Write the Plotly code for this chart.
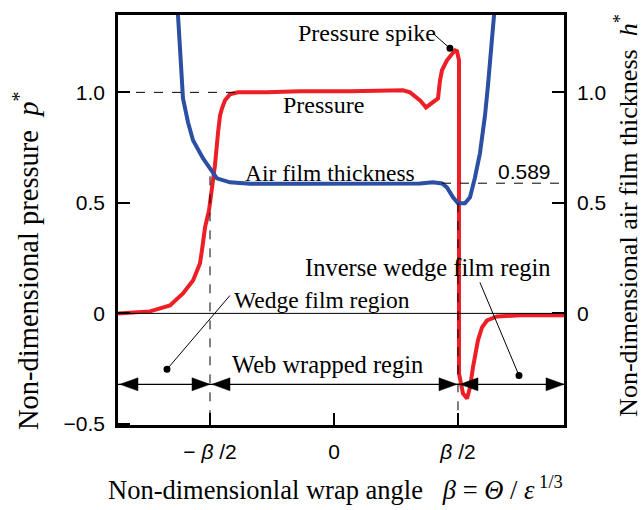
import plotly.graph_objects as go

# ---- data (x in units of beta/2, so -1 = -beta/2, +1 = beta/2) ----
p_x = [-1.742, -1.621, -1.484, -1.323, -1.218, -1.137, -1.081, -1.065, -1.040, -1.008,
       -0.984, -0.960, -0.935, -0.919, -0.903, -0.879, -0.839, -0.774, -0.540, -0.274,
       0.129, 0.556, 0.613, 0.694, 0.742, 0.798, 0.839, 0.855, 0.871, 0.911,
       0.976, 0.992, 1.008, 1.008, 1.040, 1.073, 1.097, 1.121, 1.161, 1.194,
       1.234, 1.315, 1.500, 1.855]
p_y = [0.0, 0.005, 0.009, 0.036, 0.090, 0.149, 0.226, 0.285, 0.389, 0.466,
       0.557, 0.670, 0.819, 0.896, 0.928, 0.964, 0.991, 1.000, 1.000, 1.005,
       1.005, 1.009, 1.000, 0.964, 0.932, 0.955, 0.973, 1.054, 1.100, 1.145,
       1.190, 1.186, 1.145, -0.271, -0.362, -0.385, -0.335, -0.244, -0.122, -0.063,
       -0.032, -0.014, -0.009, -0.009]

h_x = [-1.266, -1.258, -1.242, -1.218, -1.177, -1.137, -1.056, -0.984, -0.944, -0.839,
       -0.677, -0.274, 0.371, 0.694, 0.798, 0.871, 0.911, 0.960, 1.000, 1.056,
       1.097, 1.137, 1.177, 1.218, 1.242, 1.274, 1.298, 1.315]
h_y = [1.507, 1.348, 1.199, 0.973, 0.864, 0.783, 0.701, 0.638, 0.611, 0.593,
       0.586, 0.586, 0.586, 0.588, 0.593, 0.588, 0.570, 0.525, 0.498, 0.498,
       0.525, 0.615, 0.724, 0.896, 1.032, 1.213, 1.348, 1.507]

x_range = [-1.742, 1.855]
y_range = [-0.505, 1.35]
y_tickvals = [1.0, 0.5, 0.0, -0.5]
y_ticktext = ["1.0", "0.5", "0", "\u22120.5"]
y2_tickvals = [1.0, 0.5, 0.0]
y2_ticktext = ["1.0", "0.5", "0"]
x_tickvals = [-1, 0, 1]
x_ticktext = ["\u2212 <i>\u03b2</i> /2", "0", "<i>\u03b2</i> /2"]

h_uniform = 0.589
p_spike = (0.935, 1.199)
region_bounds = [-1.742, -1.0, 1.0, 1.855]
arrow_row = -0.321

RED = "#EE1E26"
BLUE = "#2A4FA3"
SERIF = "Liberation Serif"
SANS = "Liberation Sans"

fig = go.Figure()
fig.add_trace(go.Scatter(x=p_x, y=p_y, mode="lines", yaxis="y",
                         line=dict(color=RED, width=4), hoverinfo="skip"))
fig.add_trace(go.Scatter(x=h_x, y=h_y, mode="lines", yaxis="y2",
                         line=dict(color=BLUE, width=4), hoverinfo="skip"))

shapes = []
# zero line
shapes.append(dict(type="line", xref="paper", yref="y", x0=0, x1=1, y0=0, y1=0,
                   line=dict(color="black", width=1)))
# dashed reference lines
shapes.append(dict(type="line", xref="x", yref="y", x0=x_range[0], x1=-0.774, y0=1.0, y1=1.0,
                   line=dict(color="black", width=1, dash="dash")))
shapes.append(dict(type="line", xref="x", yref="y", x0=0.871, x1=x_range[1], y0=h_uniform, y1=h_uniform,
                   line=dict(color="black", width=1, dash="dash")))
shapes.append(dict(type="line", xref="x", yref="y", x0=-1.0, x1=-1.0, y0=0.62, y1=y_range[0],
                   line=dict(color="black", width=1, dash="dash")))
shapes.append(dict(type="line", xref="x", yref="y", x0=1.0, x1=1.0, y0=0.498, y1=y_range[0],
                   line=dict(color="black", width=1, dash="dash")))
# region arrows
shapes.append(dict(type="line", xref="x", yref="y", x0=region_bounds[0], x1=region_bounds[-1],
                   y0=arrow_row, y1=arrow_row, line=dict(color="black", width=1.2)))
heads = [(region_bounds[0] + 0.016, -1), (region_bounds[1], 1), (region_bounds[1] + 0.016, -1),
         (region_bounds[2] - 0.008, 1), (region_bounds[2] + 0.016, -1), (region_bounds[3], 1)]
for hx, d in heads:
    shapes.append(dict(type="path", xref="x", yref="y", xsizemode="pixel", ysizemode="pixel",
                       xanchor=hx, yanchor=arrow_row,
                       path=f"M0,0 L{-18*d},6.5 L{-18*d},-6.5 Z",
                       fillcolor="black", line=dict(color="black", width=0.5)))
# leader lines and dots
leaders = [((0.798, 1.267), p_spike), ((-0.839, 0.081), (-1.347, -0.253)),
           ((1.177, 0.140), (1.492, -0.281))]
for (ax_, ay_), (dx, dy) in leaders:
    shapes.append(dict(type="line", xref="x", yref="y", x0=ax_, y0=ay_, x1=dx, y1=dy,
                       line=dict(color="black", width=1)))
    shapes.append(dict(type="circle", xref="x", yref="y", xsizemode="pixel", ysizemode="pixel",
                       xanchor=dx, yanchor=dy, x0=-3.5, x1=3.5, y0=-3.5, y1=3.5,
                       fillcolor="black", line=dict(color="black", width=0)))

def tf(size=23.5):
    return dict(family=SERIF, size=size, color="black")

annotations = [
    dict(x=0.839, y=1.267, xref="x", yref="y", text="Pressure spike", showarrow=False,
         xanchor="right", yanchor="middle", font=tf(24)),
    dict(x=-0.085, y=0.941, xref="x", yref="y", text="Pressure", showarrow=False,
         xanchor="center", yanchor="middle", font=tf(24)),
    dict(x=-0.032, y=0.633, xref="x", yref="y", text="Air film thickness", showarrow=False,
         xanchor="center", yanchor="middle", font=tf(23.5)),
    dict(x=1.766, y=0.643, xref="x", yref="y", text="0.589", showarrow=False,
         xanchor="right", yanchor="middle", font=dict(family=SANS, size=21, color="black")),
    dict(x=-0.823, y=0.059, xref="x", yref="y", text="Wedge film region", showarrow=False,
         xanchor="left", yanchor="middle", font=tf(23.5)),
    dict(x=-0.839, y=-0.231, xref="x", yref="y", text="Web wrapped regin", showarrow=False,
         xanchor="left", yanchor="middle", font=tf(24.5)),
    dict(x=1.766, y=0.208, xref="x", yref="y", text="Inverse wedge film regin", showarrow=False,
         xanchor="right", yanchor="middle", font=tf(24.5)),
    # axis titles
    dict(x=0, y=0.40, xref="paper", yref="paper", xshift=-92, textangle=-90,
         text="Non-dimensional pressure  <i>p</i><sup>*</sup>", showarrow=False,
         xanchor="center", yanchor="middle", font=dict(family=SERIF, size=28.5, color="black")),
    dict(x=1, y=0.51, xref="paper", yref="paper", xshift=63, textangle=-90,
         text="Non-dimensional air film thickness  <i>h</i><sup>*</sup>", showarrow=False,
         xanchor="center", yanchor="middle", font=dict(family=SERIF, size=26, color="black")),
    dict(x=0.487, y=-0.154, xref="paper", yref="paper",
         text="Non-dimensionlal wrap angle   <i>\u03b2</i> = <i>\u0398</i> / <i>\u03b5</i><sup> 1/3</sup>",
         showarrow=False, xanchor="center", yanchor="middle",
         font=dict(family=SERIF, size=26.5, color="black")),
]

tickfont = dict(family=SANS, size=21, color="black")
fig.update_layout(
    width=642, height=510,
    margin=dict(l=118, r=78, t=15, b=85),
    paper_bgcolor="white", plot_bgcolor="white",
    showlegend=False,
    xaxis=dict(range=x_range, tickvals=x_tickvals, ticktext=x_ticktext, ticks="inside",
               ticklen=12, tickwidth=2, tickcolor="black", showline=True, linewidth=2.5,
               linecolor="black", mirror=True, showgrid=False, zeroline=False,
               tickfont=tickfont, ticklabelstandoff=6),
    yaxis=dict(range=y_range, tickvals=y_tickvals, ticktext=y_ticktext, ticks="inside",
               ticklen=12, tickwidth=2, tickcolor="black", showline=True, linewidth=2.5,
               linecolor="black", showgrid=False, zeroline=False, tickfont=tickfont,
               ticklabelstandoff=6),
    yaxis2=dict(range=y_range, overlaying="y", side="right", tickvals=y2_tickvals,
                ticktext=y2_ticktext, ticks="inside", ticklen=12, tickwidth=2,
                tickcolor="black", showline=True, linewidth=2.5, linecolor="black",
                showgrid=False, zeroline=False, tickfont=tickfont, ticklabelstandoff=6),
    shapes=shapes,
    annotations=annotations,
)

fig.write_html("out.html")
